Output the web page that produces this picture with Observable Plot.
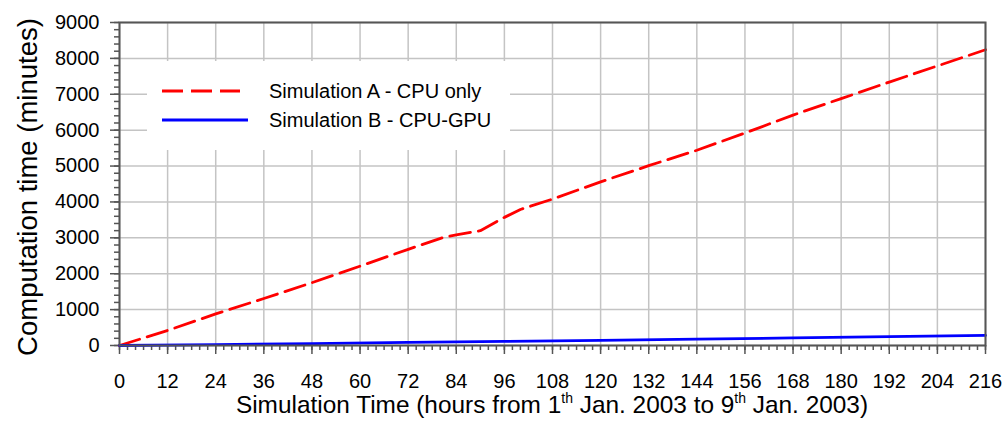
<!DOCTYPE html>
<html>
<head>
<meta charset="utf-8">
<script src="https://cdn.jsdelivr.net/npm/d3@7"></script>
<script src="https://cdn.jsdelivr.net/npm/@observablehq/plot@0.6"></script>
<style>
  html, body { margin: 0; padding: 0; background: #fff; }
  body { font-family: "Liberation Sans", Arial, sans-serif; }
  #wrap { position: relative; width: 1003px; height: 444px; overflow: hidden; }
  #xlabel { position: absolute; left: 119px; width: 866px; top: 390px; text-align: center;
            font-size: 24.4px; line-height: 30px; color: #000; white-space: nowrap; }
  #xlabel sup { font-size: 14px; vertical-align: 10px; line-height: 0; }
  #legend { position: absolute; left: 147px; top: 61px; width: 363px; height: 89px; background: #fff; }
  .li { position: absolute; left: 15px; height: 24px; display: flex; align-items: center;
        font-size: 20px; color: #000; white-space: nowrap; }
  .li svg { margin-right: 21px; }
</style>
</head>
<body>
<div id="wrap">
  <div id="chart"></div>
  <div id="legend"></div>
  <div id="xlabel"></div>
</div>
<script>
// ---- data ----
const seriesNames = ["Simulation A - CPU only", "Simulation B - CPU-GPU"];
const seriesColors = ["#ff0000", "#0000ff"];
const hoursA   = [0, 12, 24, 36, 48, 60, 72, 81, 84, 90, 96, 100, 108, 120, 132, 144, 156, 168, 180, 192, 204, 216];
const minutesA = [0, 420, 880, 1310, 1750, 2210, 2680, 3020, 3080, 3200, 3570, 3790, 4080, 4560, 5010, 5440, 5920, 6420, 6880, 7340, 7790, 8240];
const hoursB   = [0, 24, 48, 72, 96, 120, 144, 168, 192, 216];
const minutesB = [0, 25, 55, 85, 115, 145, 180, 210, 245, 280];
const xTicks = [0, 12, 24, 36, 48, 60, 72, 84, 96, 108, 120, 132, 144, 156, 168, 180, 192, 204, 216];
const xMinorTicks = d3.range(0, 217, 2);
const yTicks = [0, 1000, 2000, 3000, 4000, 5000, 6000, 7000, 8000, 9000];
const yMinorTicks = d3.range(0, 9001, 200);
const yTitle = "Computation time (minutes)";
const xTitleHTML = "Simulation Time (hours from 1<sup>th</sup> Jan. 2003 to 9<sup>th</sup> Jan. 2003)";

const dataA = hoursA.map((h, i) => ({h, m: minutesA[i]}));
const dataB = hoursB.map((h, i) => ({h, m: minutesB[i]}));

const axisColor = "#555";
const gridColor = "#c4c4c4";

const chart = Plot.plot({
  width: 1003,
  height: 392,
  marginLeft: 119,
  marginRight: 18,
  marginTop: 22,
  marginBottom: 47,
  style: {fontFamily: "'Liberation Sans', Arial, sans-serif", fontSize: "20px", color: "#000", background: "#fff"},
  x: {domain: [0, 216]},
  y: {domain: [0, 9000]},
  marks: [
    Plot.gridX(xTicks, {stroke: gridColor, strokeOpacity: 1, strokeWidth: 1.5}),
    Plot.gridY(yTicks, {stroke: gridColor, strokeOpacity: 1, strokeWidth: 1.5}),
    Plot.axisX(xMinorTicks, {tickSize: 5, stroke: axisColor, strokeWidth: 1.5, tickFormat: () => "", label: null}),
    Plot.axisX(xTicks, {tickSize: 9, tickPadding: 19, stroke: axisColor, strokeWidth: 1.5, fontSize: 20, label: null}),
    Plot.axisY(yMinorTicks, {tickSize: 5, stroke: axisColor, strokeWidth: 1.5, tickFormat: () => "", label: null}),
    Plot.axisY(yTicks, {tickSize: 9, tickPadding: 11, stroke: axisColor, strokeWidth: 1.5, fontSize: 20, tickFormat: d => String(d), label: null}),
    Plot.line(dataA, {x: "h", y: "m", stroke: seriesColors[0], strokeWidth: 2.8, strokeDasharray: "21,8"}),
    Plot.line(dataB, {x: "h", y: "m", stroke: seriesColors[1], strokeWidth: 2.8}),
    Plot.frame({stroke: axisColor, strokeWidth: 2}),
    Plot.text([yTitle], {frameAnchor: "left", textAnchor: "middle", rotate: -90, dx: -91, dy: 3, fontSize: 27.5, fill: "#000", text: d => d})
  ]
});
document.getElementById("chart").appendChild(chart);

// legend
const legend = document.getElementById("legend");
const dashes = ["21,8", null];
const widths = [78, 86];
seriesNames.forEach((name, i) => {
  const row = document.createElement("div");
  row.className = "li";
  row.style.top = (i === 0 ? 18 : 47) + "px";
  const ns = "http://www.w3.org/2000/svg";
  const s = document.createElementNS(ns, "svg");
  s.setAttribute("width", 86);
  s.setAttribute("height", 6);
  const l = document.createElementNS(ns, "line");
  l.setAttribute("x1", 0); l.setAttribute("x2", widths[i]);
  l.setAttribute("y1", 3); l.setAttribute("y2", 3);
  l.setAttribute("stroke", seriesColors[i]);
  l.setAttribute("stroke-width", 2.8);
  if (dashes[i]) l.setAttribute("stroke-dasharray", dashes[i]);
  s.appendChild(l);
  row.appendChild(s);
  const t = document.createElement("span");
  t.textContent = name;
  row.appendChild(t);
  legend.appendChild(row);
});
document.getElementById("xlabel").innerHTML = xTitleHTML;
</script>
</body>
</html>
